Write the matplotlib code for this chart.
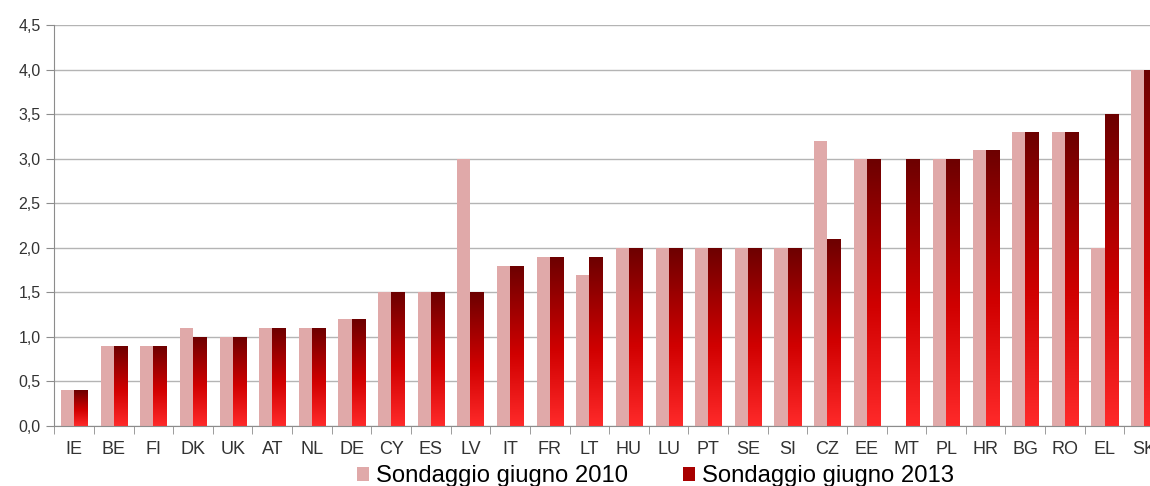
import numpy as np
import matplotlib
matplotlib.use("Agg")
import matplotlib.pyplot as plt
from matplotlib.colors import LinearSegmentedColormap
from matplotlib.patches import Patch
from matplotlib.ticker import FuncFormatter, MultipleLocator

# dati
paesi = ["IE", "BE", "FI", "DK", "UK", "AT", "NL", "DE", "CY", "ES", "LV", "IT",
         "FR", "LT", "HU", "LU", "PT", "SE", "SI", "CZ", "EE", "MT", "PL", "HR",
         "BG", "RO", "EL", "SK"]
giugno_2010 = [0.4, 0.9, 0.9, 1.1, 1.0, 1.1, 1.1, 1.2, 1.5, 1.5, 3.0, 1.8,
               1.9, 1.7, 2.0, 2.0, 2.0, 2.0, 2.0, 3.2, 3.0, 0.0, 3.0, 3.1,
               3.3, 3.3, 2.0, 4.0]
giugno_2013 = [0.4, 0.9, 0.9, 1.0, 1.0, 1.1, 1.1, 1.2, 1.5, 1.5, 1.5, 1.8,
               1.9, 1.9, 2.0, 2.0, 2.0, 2.0, 2.0, 2.1, 3.0, 3.0, 3.0, 3.1,
               3.3, 3.3, 3.5, 4.0]
etichette = ["Sondaggio giugno 2010", "Sondaggio giugno 2013"]

plt.rcParams["font.family"] = ["Liberation Sans", "DejaVu Sans"]

ROSA = "#e0a9a9"
sfumatura = LinearSegmentedColormap.from_list(
    "rosso", [(0.0, "#ff2a2a"), (0.45, "#d00000"), (1.0, "#6c0000")])

fig = plt.figure(figsize=(11.5, 4.86), dpi=100)
ax = fig.add_axes([0.0472, 0.1235, 0.965, 0.825])

x = np.arange(len(paesi))
w = 0.33
ax.bar(x - w / 2, giugno_2010, width=w, color=ROSA, zorder=2)
barre = ax.bar(x + w / 2, giugno_2013, width=w, color="none", zorder=2)

# sfumatura verticale dentro ogni barra 2013
grad = np.linspace(0, 1, 256).reshape(-1, 1)
for b in barre:
    x0, h, bw = b.get_x(), b.get_height(), b.get_width()
    im = ax.imshow(grad, cmap=sfumatura, origin="lower", aspect="auto",
                   extent=(x0, x0 + bw, 0, h), zorder=2)
    im.set_clip_path(b)

ax.set_xlim(-0.5, len(paesi) - 0.5)
ax.set_ylim(0, 4.5)
ax.yaxis.set_major_locator(MultipleLocator(0.5))
ax.yaxis.set_major_formatter(FuncFormatter(lambda v, p: f"{v:.1f}".replace(".", ",")))
ax.grid(axis="y", color="#b4b4b4", linewidth=1.0, zorder=0)
ax.set_axisbelow(True)

ax.set_xticks(x)
ax.set_xticklabels(paesi)
ax.set_xticks(np.arange(-0.5, len(paesi)), minor=True)
ax.tick_params(axis="x", which="major", length=0, pad=11, labelsize=13, labelcolor="#333333")
ax.tick_params(axis="x", which="minor", length=6, color="#8c8c8c", direction="out")
ax.tick_params(axis="y", length=6, color="#8c8c8c", labelsize=11.5, labelcolor="#333333", pad=4)

for s in ["top", "right"]:
    ax.spines[s].set_visible(False)
for s in ["left", "bottom"]:
    ax.spines[s].set_color("#8c8c8c")

maniglie = [Patch(facecolor=ROSA), Patch(facecolor="#a80000")]
fig.legend(maniglie, etichette, loc="center", bbox_to_anchor=(0.57, 0.02),
           ncol=2, frameon=False, fontsize=17.2, handlelength=0.5, handleheight=0.5,
           handletextpad=0.3, columnspacing=2.3, borderpad=0, borderaxespad=0)

fig.savefig("out.png", dpi=100)
